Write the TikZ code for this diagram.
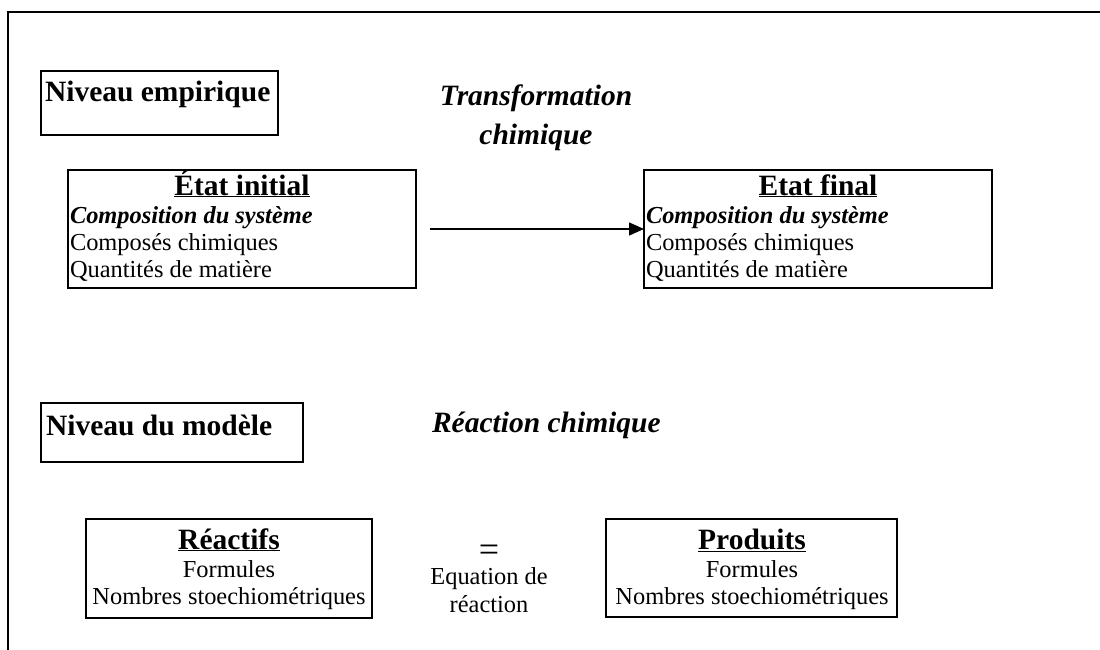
\documentclass[tikz,border=0pt]{standalone}
\usepackage{fontspec}
\setmainfont{Liberation Serif}
\usetikzlibrary{arrows.meta}
\newcommand\ttlfont{\fontsize{29.5}{33}\selectfont\bfseries}
\newcommand\bdyfont{\fontsize{24.4}{27}\selectfont}
\begin{document}
\begin{tikzpicture}[x=1pt,y=-1pt,
  box/.style={draw, line width=1.5pt, inner sep=0pt, outer sep=0pt, anchor=north west},
  txt/.style={inner sep=0pt, outer sep=0pt},
  frame/.style={line width=1.5pt}]
\useasboundingbox (0,0) rectangle (1100,650);
% frame
\coordinate (fA) at (1100,12);
\coordinate (fB) at (8,12);
\coordinate (fC) at (8,650);
\draw[frame] (fA) -- (fB) -- (fC);
% Niveau empirique
\node[box, minimum width=237pt, minimum height=64pt] (ne) at (41,71) {};
\node[txt, anchor=base west] (net) at (45,102) {\ttlfont Niveau empirique};
% Transformation chimique
\node[txt, anchor=base] (tc1) at (536,106) {\ttlfont\itshape Transformation};
\node[txt, anchor=base] (tc2) at (536,145) {\ttlfont\itshape chimique};
% Etat initial
\node[box, minimum width=348pt, minimum height=118pt] (ei) at (68,170) {};
\node[txt, anchor=base] (eit) at (242,195) {\ttlfont\underline{État initial}};
\node[txt, anchor=base west] (ei1) at (70,223) {\bdyfont\bfseries\itshape Composition du système};
\node[txt, anchor=base west] (ei2) at (70,250) {\bdyfont Composés chimiques};
\node[txt, anchor=base west] (ei3) at (70,277) {\bdyfont Quantités de matière};
% Etat final
\node[box, minimum width=348pt, minimum height=118pt] (ef) at (644,170) {};
\node[txt, anchor=base] (eft) at (818,195) {\ttlfont\underline{Etat final}};
\node[txt, anchor=base west] (ef1) at (646,223) {\bdyfont\bfseries\itshape Composition du système};
\node[txt, anchor=base west] (ef2) at (646,250) {\bdyfont Composés chimiques};
\node[txt, anchor=base west] (ef3) at (646,277) {\bdyfont Quantités de matière};
% arrow
\draw[line width=1.5pt, -{Triangle[length=15pt,width=13pt]}, shorten <=14pt] (ei.east) -- (ef.west);
% Niveau du modele
\node[box, minimum width=262pt, minimum height=59pt] (nm) at (41,403) {};
\node[txt, anchor=base west] (nmt) at (46,435) {\ttlfont Niveau du modèle};
\node[txt, anchor=base west] (rc) at (432,432) {\ttlfont\itshape Réaction chimique};
% Reactifs
\node[box, minimum width=286pt, minimum height=99pt] (re) at (86,519) {};
\node[txt, anchor=base] (ret) at (229,549) {\ttlfont\underline{Réactifs}};
\node[txt, anchor=base] (re1) at (229,577) {\bdyfont Formules};
\node[txt, anchor=base] (re2) at (229,604) {\bdyfont Nombres stoechiométriques};
% Produits
\node[box, minimum width=291pt, minimum height=98pt] (pr) at (606,519) {};
\node[txt, anchor=base] (prt) at (752,549) {\ttlfont\underline{Produits}};
\node[txt, anchor=base] (pr1) at (752,577) {\bdyfont Formules};
\node[txt, anchor=base] (pr2) at (752,604) {\bdyfont Nombres stoechiométriques};
% equation
\node[txt, anchor=base] (eq) at (489,561) {\fontsize{36}{36}\selectfont\smash{=}};
\node[txt, anchor=base] (eq1) at (489,584) {\bdyfont Equation de};
\node[txt, anchor=base] (eq2) at (489,612) {\bdyfont réaction};
\end{tikzpicture}
\end{document}
